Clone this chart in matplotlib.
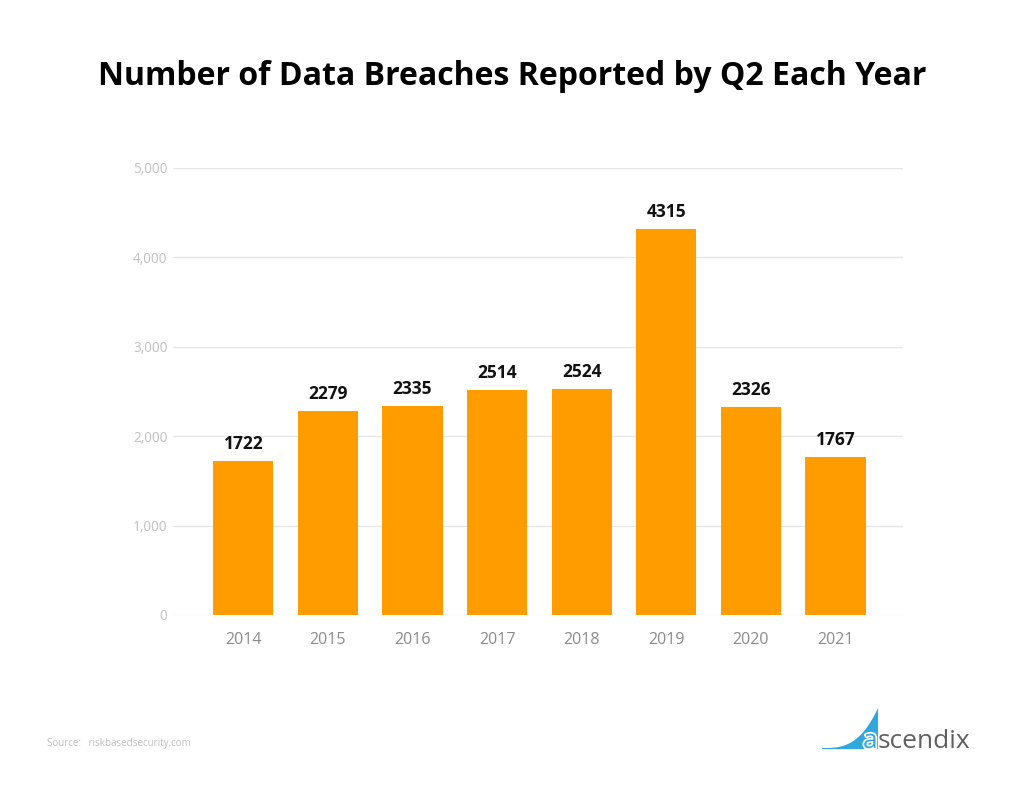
import matplotlib.pyplot as plt
import numpy as np
from matplotlib.patches import Polygon
import matplotlib.patheffects as pe
import matplotlib.ticker as ticker

plt.rcParams['font.family'] = ['Open Sans', 'DejaVu Sans']

# Data
years = ['2014', '2015', '2016', '2017', '2018', '2019', '2020', '2021']
breaches = [1722, 2279, 2335, 2514, 2524, 4315, 2326, 1767]
y_ticks = [0, 1000, 2000, 3000, 4000, 5000]

fig = plt.figure(figsize=(10.24, 8.06), dpi=100)
ax = fig.add_axes([0.169, 0.237, 0.713, 0.5546])

x = np.arange(len(years))
ax.bar(x, breaches, width=0.71, color='#FF9C00', zorder=3)

for xi, v in zip(x, breaches):
    ax.text(xi, v + 95, str(v), ha='center', va='bottom',
            fontsize=12.5, fontweight='bold', color='#111111', zorder=4)

ax.set_xlim(-0.83, 7.80)
ax.set_ylim(0, 5000)
ax.set_yticks(y_ticks)
ax.yaxis.set_major_formatter(ticker.FuncFormatter(lambda v, p: f'{int(v):,}'))
ax.set_xticks(x)
ax.set_xticklabels(years)

ax.grid(axis='y', color='#e6e6e6', linewidth=1, zorder=0)
for s in ax.spines.values():
    s.set_visible(False)
ax.tick_params(axis='y', length=0, pad=4, labelsize=9.8, labelcolor='#c0c0c0')
ax.tick_params(axis='x', length=0, pad=12, labelsize=11.5, labelcolor='#8a8a8a')

fig.text(0.5, 0.905, 'Number of Data Breaches Reported by Q2 Each Year',
         ha='center', va='center', fontsize=23, fontweight='bold', color='#000000')

fig.text(0.046, 0.078, 'Source:   riskbasedsecurity.com', ha='left', va='center',
         fontsize=7, color='#bdbdbd')

# ascendix logo
t = np.linspace(0, 1, 40)
xs = 822 + 56 * t
ys = 748 - 40 * t ** 3
pts = [(px / 1024, 1 - py / 806) for px, py in zip(xs, ys)]
pts += [(878 / 1024, 1 - 749 / 806), (822 / 1024, 1 - 749 / 806)]
fig.patches.append(Polygon(pts, closed=True, transform=fig.transFigure,
                           facecolor='#2fa8e0', edgecolor='none'))
fig.text(863 / 1024, 1 - 748 / 806, 'a', ha='left', va='baseline',
         fontsize=19, color='#2fa8e0',
         path_effects=[pe.withStroke(linewidth=2.5, foreground='white')])
fig.text(878 / 1024, 1 - 748 / 806, 'scendix', ha='left', va='baseline',
         fontsize=19, color='#606060')

fig.savefig('out.png', dpi=100, facecolor='white')
